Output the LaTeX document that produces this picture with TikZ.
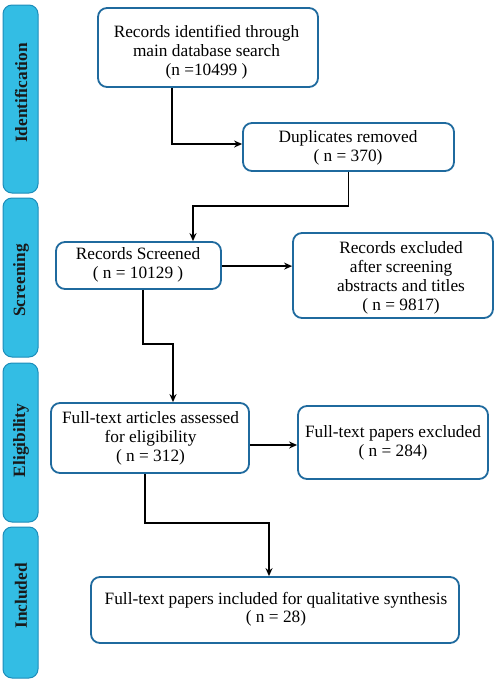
\documentclass[tikz,border=0pt]{standalone}
\usepackage{fontspec}
\setmainfont{Liberation Serif}
\usetikzlibrary{arrows.meta,calc}
\definecolor{boxblue}{HTML}{1F6A9E}
\definecolor{barfill}{HTML}{33BDE4}
\definecolor{barline}{HTML}{1C8DBA}
\tikzset{
  box/.style={draw=boxblue, line width=1.8pt, rounded corners=9pt, fill=white, inner sep=0pt},
  txt/.style={align=center, anchor=base, inner sep=0pt, font=\fontsize{17.3}{18.7}\selectfont},
  bar/.style={draw=barline, line width=1pt, fill=barfill, rounded corners=9pt},
  barlabel/.style={rotate=90, font=\fontsize{17.3}{18}\selectfont\bfseries, text=black!90},
  arr/.style={line width=1.3pt, -{Stealth[length=8pt,width=7pt]}}
}
\begin{document}
\begin{tikzpicture}[x=1pt,y=-1pt]
\useasboundingbox (0,0) rectangle (498,683);
% side bars
\draw[bar] (3,5) rectangle (38,193);
\node[barlabel] (l1) at (21,93) {Identification};
\draw[bar] (3,198) rectangle (38,357);
\node[barlabel] (l2) at (21,280.5) {Screening};
\draw[bar] (3,363) rectangle (38,522);
\node[barlabel] (l3) at (21,440.5) {Eligibility};
\draw[bar] (3,527) rectangle (38,678);
\node[barlabel] (l4) at (21,596) {Included};
% boxes
\node[box, minimum width=220pt, minimum height=79pt] (b1) at (208,47.5) {};
\node[txt] (t1) at (206.5,75) {Records identified through\\ main database search\\ (n =10499 )};
\node[box, minimum width=211pt, minimum height=48pt] (b2) at (348.5,147) {};
\node[txt] (t2) at (348,161) {Duplicates removed\\ ( n = 370)};
\node[box, minimum width=165pt, minimum height=47pt] (b3) at (138.5,265.5) {};
\node[txt] (t3) at (138,278) {Records Screened\\ ( n = 10129 )};
\node[box, minimum width=200pt, minimum height=85pt] (b4) at (393,275.5) {};
\node[txt] (t4) at (401,310) {Records excluded\\ after screening\\ abstracts and titles\\ ( n = 9817)};
\node[box, minimum width=198pt, minimum height=70pt] (b5) at (150,438) {};
\node[txt] (t5) at (150.5,461) {Full-text articles assessed\\ for eligibility\\ ( n = 312)};
\node[box, minimum width=190pt, minimum height=73pt] (b6) at (393,442.5) {};
\node[txt] (t6) at (393,456) {Full-text papers excluded\\ ( n = 284)};
\node[box, minimum width=368pt, minimum height=66pt] (b7) at (275,610) {};
\node[txt] (t7) at (276,622.7) {Full-text papers included for qualitative synthesis\\ ( n = 28)};
% connectors
\coordinate (c1) at ($(b2.west)+(0,-3)$);
\draw[arr] ([xshift=-36pt]b1.south) |- (c1);
\draw[arr] (b2.south) -- ++(0,34) -| ([xshift=54.5pt]b3.north);
\coordinate (c3) at ($(b3.east)+(0,0.6)$);
\draw[arr] (c3) -- (c3 -| b4.west);
\draw[arr] ([xshift=4.5pt]b3.south) -- ++(0,54) -| ([xshift=23pt]b5.north);
\coordinate (c5) at ($(b5.east)+(0,7)$);
\draw[arr] (c5) -- (c5 -| b6.west);
\draw[arr] ([xshift=-5pt]b5.south) -- ++(0,49) -| ([xshift=-6pt]b7.north);
\end{tikzpicture}
\end{document}
